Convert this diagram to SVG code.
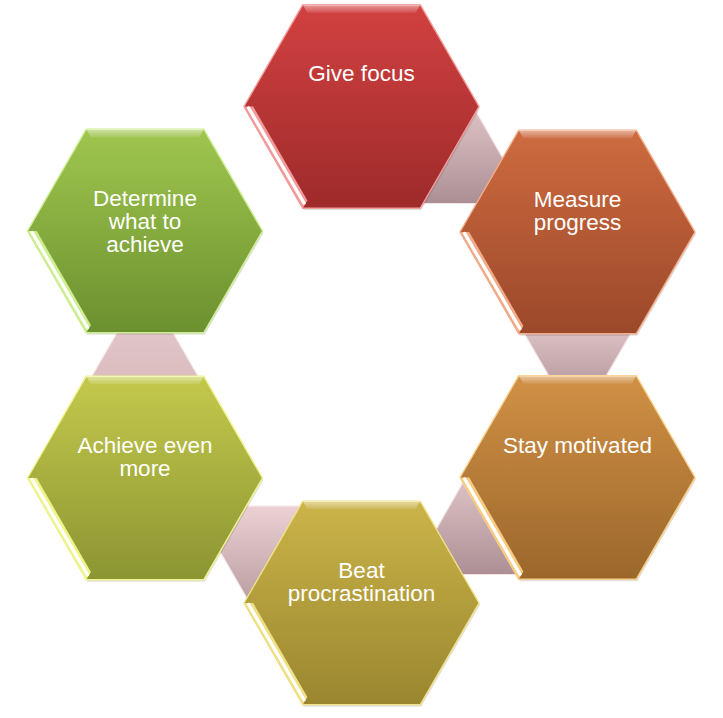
<svg xmlns="http://www.w3.org/2000/svg" xmlns:xlink="http://www.w3.org/1999/xlink" width="723" height="718" viewBox="0 0 723 718">
  <defs>
    <!-- hexagon outline, centred on the origin (r = 117.5) -->
    <polygon id="hex" points="-117.5,0 -58.75,-101.76 58.75,-101.76 117.5,0 58.75,101.76 -58.75,101.76"/>
    <!-- top bevel face -->
    <polygon id="bevelTop" points="-58.75,-101.76 58.75,-101.76 54.13,-93.76 -54.13,-93.76"/>
    <!-- lower-left bevel face -->
    <polygon id="bevelLL" points="-117.5,0 -108.3,0 -54.1,93.9 -58.75,101.76"/>

    <linearGradient id="gRed" x1="0" y1="0" x2="0" y2="1">
      <stop offset="0" stop-color="#d24141"/><stop offset="1" stop-color="#9e2a2a"/>
    </linearGradient>
    <linearGradient id="gRust" x1="0" y1="0" x2="0" y2="1">
      <stop offset="0" stop-color="#ce6b40"/><stop offset="1" stop-color="#9b482a"/>
    </linearGradient>
    <linearGradient id="gOrange" x1="0" y1="0" x2="0" y2="1">
      <stop offset="0" stop-color="#d19045"/><stop offset="1" stop-color="#9b672b"/>
    </linearGradient>
    <linearGradient id="gGold" x1="0" y1="0" x2="0" y2="1">
      <stop offset="0" stop-color="#cbb449"/><stop offset="1" stop-color="#9a862f"/>
    </linearGradient>
    <linearGradient id="gLime" x1="0" y1="0" x2="0" y2="1">
      <stop offset="0" stop-color="#c4c94c"/><stop offset="1" stop-color="#8b9532"/>
    </linearGradient>
    <linearGradient id="gGreen" x1="0" y1="0" x2="0" y2="1">
      <stop offset="0" stop-color="#a0c64f"/><stop offset="1" stop-color="#6b902f"/>
    </linearGradient>

    <linearGradient id="topSheen" x1="0" y1="0" x2="0" y2="1">
      <stop offset="0" stop-color="#ffffff" stop-opacity="0.5"/>
      <stop offset="1" stop-color="#ffffff" stop-opacity="0.08"/>
    </linearGradient>

    <linearGradient id="gConn" x1="0" y1="0" x2="0" y2="1">
      <stop offset="0" stop-color="#ecd1d4"/><stop offset="1" stop-color="#ab8f94"/>
    </linearGradient>
    <linearGradient id="gConnLight" x1="0" y1="0" x2="0" y2="1">
      <stop offset="0" stop-color="#e6cacd"/><stop offset="1" stop-color="#d6b7ba"/>
    </linearGradient>

    <style>
      .conn { fill: url(#gConn); stroke: #f3e3e5; stroke-width: 1.2; }
      .hexbody { stroke-width: 1.4; }
      .shade { fill: #000000; opacity: 0.12; }
      .llw { stroke: #ffffff; stroke-width: 3.4; stroke-linecap: round; }
      .label { font-family: "Liberation Sans", Arial, sans-serif; font-size: 22.5px; fill: #ffffff; text-anchor: middle; }
    </style>
  </defs>

  <rect width="723" height="718" fill="#ffffff"/>

  <!-- tapered links between neighbouring hexagons, drawn underneath -->
  <g id="connectors">
    <polygon class="conn" points="459.03,81.97 519.83,187.94 510.67,203.72 388.49,203.37"/>
    <polygon class="conn" points="507.3,304 647.7,304 589.1,405.5 565.9,405.5"/>
    <polygon class="conn" points="479.97,452.97 419.17,558.94 428.33,574.72 550.51,574.37"/>
    <polygon class="conn" points="334.25,506.21 211.85,506.21 202.85,521.79 264.05,627.79"/>
    <polygon class="conn" style="fill:url(#gConnLight)" points="74.8,406 215.2,406 155.7,303 134.3,303"/>
  </g>

  <g id="give-focus" transform="translate(361.5,106.5)">
    <use xlink:href="#hex" class="shade" transform="translate(1,2)"/>
    <use xlink:href="#hex" class="hexbody" fill="url(#gRed)" stroke="#f39c9c"/>
    <use xlink:href="#bevelTop" fill="url(#topSheen)"/>
    <use xlink:href="#bevelLL" fill="#f39a9a"/>
    <line class="llw" x1="-112.8" y1="1.5" x2="-57.6" y2="96.5"/>
    <text class="label" x="0" y="-26">Give focus</text>
  </g>

  <g id="measure-progress" transform="translate(577.5,232)">
    <use xlink:href="#hex" class="shade" transform="translate(1,2)"/>
    <use xlink:href="#hex" class="hexbody" fill="url(#gRust)" stroke="#f2ad8b"/>
    <use xlink:href="#bevelTop" fill="url(#topSheen)"/>
    <use xlink:href="#bevelLL" fill="#f2ab88"/>
    <line class="llw" x1="-112.8" y1="1.5" x2="-57.6" y2="96.5"/>
    <text class="label" x="0" y="-25.5">Measure</text>
    <text class="label" x="0" y="-2.3">progress</text>
  </g>

  <g id="stay-motivated" transform="translate(577.5,477.5)">
    <use xlink:href="#hex" class="shade" transform="translate(1,2)"/>
    <use xlink:href="#hex" class="hexbody" fill="url(#gOrange)" stroke="#f8cf88"/>
    <use xlink:href="#bevelTop" fill="url(#topSheen)"/>
    <use xlink:href="#bevelLL" fill="#f7cc82"/>
    <line class="llw" x1="-112.8" y1="1.5" x2="-57.6" y2="96.5"/>
    <text class="label" x="0" y="-25">Stay motivated</text>
  </g>

  <g id="beat-procrastination" transform="translate(361.5,603)">
    <use xlink:href="#hex" class="shade" transform="translate(1,2)"/>
    <use xlink:href="#hex" class="hexbody" fill="url(#gGold)" stroke="#efe18a"/>
    <use xlink:href="#bevelTop" fill="url(#topSheen)"/>
    <use xlink:href="#bevelLL" fill="#efdf85"/>
    <line class="llw" x1="-112.8" y1="1.5" x2="-57.6" y2="96.5"/>
    <text class="label" x="0" y="-25.5">Beat</text>
    <text class="label" x="0" y="-2.3">procrastination</text>
  </g>

  <g id="achieve-even-more" transform="translate(145,478)">
    <use xlink:href="#hex" class="shade" transform="translate(1,2)"/>
    <use xlink:href="#hex" class="hexbody" fill="url(#gLime)" stroke="#eef48e"/>
    <use xlink:href="#bevelTop" fill="url(#topSheen)"/>
    <use xlink:href="#bevelLL" fill="#eef38a"/>
    <line class="llw" x1="-112.8" y1="1.5" x2="-57.6" y2="96.5"/>
    <text class="label" x="0" y="-25.5">Achieve even</text>
    <text class="label" x="0" y="-2.3">more</text>
  </g>

  <g id="determine-what-to-achieve" transform="translate(145,231)">
    <use xlink:href="#hex" class="shade" transform="translate(1,2)"/>
    <use xlink:href="#hex" class="hexbody" fill="url(#gGreen)" stroke="#ccee92"/>
    <use xlink:href="#bevelTop" fill="url(#topSheen)"/>
    <use xlink:href="#bevelLL" fill="#ccee8e"/>
    <line class="llw" x1="-112.8" y1="1.5" x2="-57.6" y2="96.5"/>
    <text class="label" x="0" y="-25">Determine</text>
    <text class="label" x="0" y="-1.8">what to</text>
    <text class="label" x="0" y="21.4">achieve</text>
  </g>
</svg>
